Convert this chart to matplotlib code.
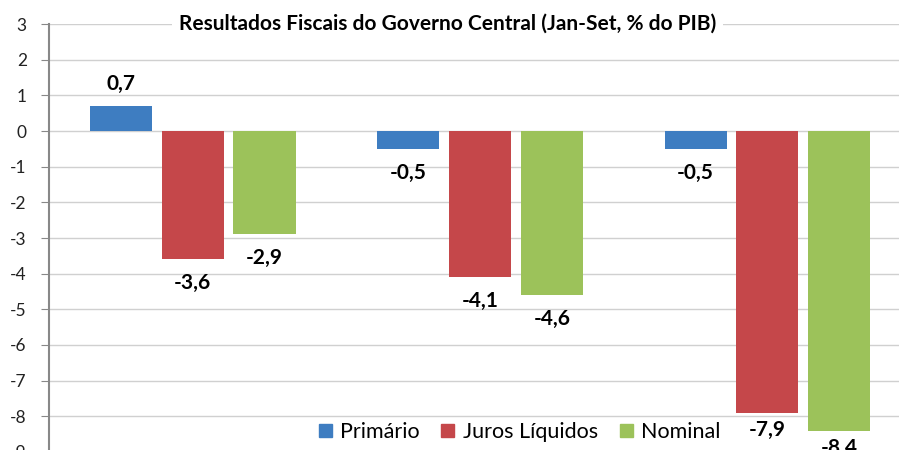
import matplotlib
matplotlib.use("Agg")
from matplotlib import pyplot as plt
from matplotlib.patches import Patch
import numpy as np

# Data
series_names = ["Primário", "Juros Líquidos", "Nominal"]
primario = [0.7, -0.5, -0.5]
juros = [-3.6, -4.1, -7.9]
nominal = [-2.9, -4.6, -8.4]
yticks = list(range(-9, 4))

colors = ["#3E7DC1", "#C5474A", "#9CC25A"]

plt.rcParams['font.family'] = ['Lato', 'DejaVu Sans']

fig = plt.figure(figsize=(8.99, 4.5), dpi=100)
ax = fig.add_axes([0.0545, -0.0044, 0.959, 0.951])

x = np.arange(3)
width = 0.216
offset = 0.25
all_series = [primario, juros, nominal]

for i, vals in enumerate(all_series):
    pos = x + (i - 1) * offset
    ax.bar(pos, vals, width, color=colors[i], zorder=3)
    for px, v in zip(pos, vals):
        lbl = ("%.1f" % v).replace(".", ",")
        if v >= 0:
            ax.annotate(lbl, (px, v), xytext=(0, 9), textcoords="offset points",
                        ha="center", va="bottom", fontsize=15, fontweight="bold")
        else:
            # labels near the bottom edge get squeezed closer to the bar
            dy = -10 if v > -7 else -5
            ax.annotate(lbl, (px, v), xytext=(0, dy), textcoords="offset points",
                        ha="center", va="top", fontsize=15, fontweight="bold")

ax.set_xlim(-0.5, 2.5)
ax.set_ylim(-9, 3)
ax.set_yticks(yticks)
ax.set_yticklabels([str(t) for t in yticks], fontsize=12.5, color="#222222")
ax.set_xticks([])
ax.grid(axis="y", color="#d0d0d0", linewidth=1, zorder=0)
for s in ["top", "right", "bottom"]:
    ax.spines[s].set_visible(False)
ax.spines["left"].set_color("#888888")
ax.spines["left"].set_linewidth(1.5)
ax.tick_params(axis="y", length=6, color="#888888", pad=10)

fig.text(0.498, 1 - 24 / 450, "Resultados Fiscais do Governo Central (Jan-Set, % do PIB)",
         ha="center", va="center", fontsize=15, fontweight="bold",
         bbox=dict(facecolor="white", edgecolor="none", pad=5))

handles = [Patch(color=c) for c in colors]
fig.legend(handles, series_names, loc="center", bbox_to_anchor=(0.578, 1 - 432 / 450),
           ncol=3, frameon=False, fontsize=15.5, handlelength=0.6, handleheight=0.6,
           handletextpad=0.4, columnspacing=1.0)

plt.savefig("out.png", dpi=100)
